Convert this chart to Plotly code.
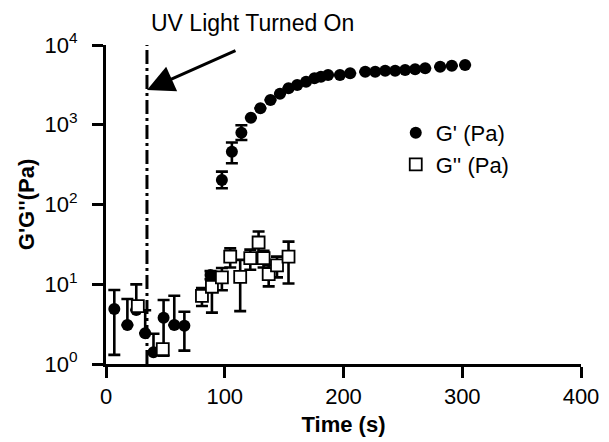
import math
import plotly.graph_objects as go

# ---------------- data ----------------
g1_time = [7, 18, 25.5, 33, 40, 48.5, 57.5, 66, 88,
           97.6, 106, 114, 122, 130, 138.5, 146.5, 153.7, 161, 168.5, 175.5,
           181, 187, 197, 205.6, 218.3, 226.7, 235.1, 243.5, 251.9, 260.3,
           268.8, 281.4, 291.2, 302.4]
g1_value = [4.9, 3.08, 4.75, 2.43, 1.40, 3.81, 3.08, 3.02, 13.1,
            203, 459, 795, 1225, 1607, 2040, 2450, 2865, 3150, 3465, 3820,
            4000, 4205, 4205, 4415, 4625, 4625, 4765, 4765, 4860, 4955,
            5100, 5345, 5500, 5610]
g1_err_up = [3.57, 3.45, 5.2, 2.3, 1.0, 2.54, 4.1, 1.5, 1.5,
             55, 140, 190] + [0] * 22
g1_err_down = [3.6, 0, 0, 0, 0, 2.54, 0, 1.55, 1.5,
               43, 130, 150] + [0] * 22

g2_time = [26.8, 47.8, 80.8, 89.2, 97.6, 104.6, 113, 121.5, 128.5, 132.7,
           137, 144, 153.7]
g2_value = [5.33, 1.54, 7.13, 9.31, 12.2, 22.2, 12.4, 21.2, 33.4, 21.2,
            13.4, 17.2, 22.2]
g2_err = [0, 0, 1.8, 4.9, 3.8, 6, 7.8, 6, 12.5, 5, 4, 5, 12]

uv_on_time = 34.5
arrow_tip_value = 2730

x_ticks = [0, 100, 200, 300, 400]
y_ticks = [1, 10, 100, 1000, 10000]
y_ticktext = ["10<sup>0</sup>", "10<sup>1</sup>", "10<sup>2</sup>",
              "10<sup>3</sup>", "10<sup>4</sup>"]

FONT = "Liberation Sans, Arial, sans-serif"

fig = go.Figure()

fig.add_trace(go.Scatter(
    x=g1_time, y=g1_value, mode="markers", name="G' (Pa)",
    marker=dict(symbol="circle", size=12, color="black"),
    error_y=dict(type="data", array=g1_err_up, arrayminus=g1_err_down,
                 color="black", thickness=2.6, width=6),
))
fig.add_trace(go.Scatter(
    x=g2_time, y=g2_value, mode="markers", name="G'' (Pa)",
    marker=dict(symbol="square", size=12, color="white",
                line=dict(color="black", width=1.8)),
    error_y=dict(type="data", array=g2_err, arrayminus=g2_err,
                 color="black", thickness=2.6, width=6),
))

# UV light vertical dash-dot line
fig.add_shape(type="line", xref="x", yref="y domain",
              x0=uv_on_time, x1=uv_on_time, y0=0, y1=1,
              line=dict(color="black", width=3, dash="14px,4px,3px,4px"))

# arrow pointing at the line
fig.add_annotation(x=uv_on_time, y=math.log10(arrow_tip_value), xref="x", yref="y",
                   text="", showarrow=True, ax=90, ay=-40,
                   arrowhead=2, arrowsize=1.8, arrowwidth=3, arrowcolor="black",
                   standoff=0)

fig.add_annotation(x=0.3084, y=1.069, xref="paper", yref="paper",
                   text="UV Light Turned On", showarrow=False,
                   xanchor="center", yanchor="middle",
                   font=dict(family=FONT, size=23, color="black"))

fig.update_xaxes(range=[0, 400], tickvals=x_ticks, ticks="outside",
                 ticklen=11, tickwidth=3, tickcolor="black",
                 showline=True, linewidth=3, linecolor="black",
                 showgrid=False, zeroline=False,
                 tickfont=dict(family=FONT, size=22, color="black"),
                 title=dict(text="<b>Time (s)</b>", standoff=9,
                            font=dict(family=FONT, size=22, color="black")))
fig.update_yaxes(type="log", range=[0, 4], tickvals=y_ticks, ticktext=y_ticktext,
                 ticks="outside", ticklen=11, tickwidth=3, tickcolor="black",
                 showline=True, linewidth=3, linecolor="black",
                 showgrid=False, zeroline=False, ticklabelstandoff=10,
                 tickfont=dict(family=FONT, size=22, color="black"),
                 title=dict(text="<b>G'G''(Pa)</b>", standoff=4,
                            font=dict(family=FONT, size=22, color="black")))

fig.update_layout(
    width=609, height=442,
    margin=dict(l=106, r=28, t=45, b=78, autoexpand=False),
    paper_bgcolor="white", plot_bgcolor="white",
    showlegend=True,
    legend=dict(x=0.61, y=0.79, xanchor="left", yanchor="top",
                bgcolor="rgba(0,0,0,0)", borderwidth=0,
                font=dict(family=FONT, size=22, color="black"),
                itemsizing="trace"),
)

fig.write_html("out.html")
